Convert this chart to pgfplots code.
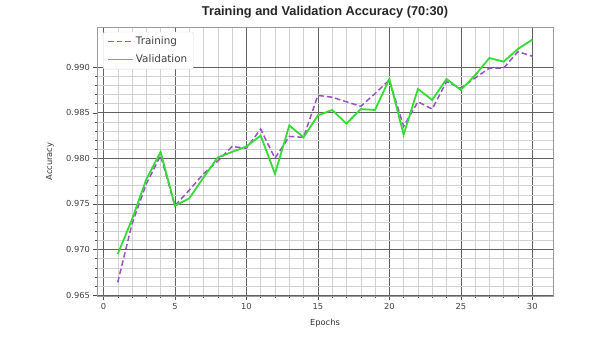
\documentclass[border=0pt]{standalone}
\usepackage{fontspec}
\setmainfont{DejaVu Sans}
\newfontfamily\titlefont{Liberation Sans}
\usepackage{pgfplots}
\pgfplotsset{compat=1.18}
\definecolor{trainc}{HTML}{9B4FC8}
\definecolor{valc}{HTML}{33DD33}
\begin{document}
\begin{tikzpicture}[x=1pt,y=1pt]
\useasboundingbox (0,0) rectangle (605,338);
\begin{axis}[at={(97pt,42pt)}, anchor=south west, scale only axis,
  width=456pt, height=269pt,
  xmin=-0.45, xmax=31.45, ymin=0.9649, ymax=0.9944,
  xtick={0,5,10,15,20,25,30},
  ytick={0.965,0.970,0.975,0.980,0.985,0.990},
  minor x tick num=4, minor y tick num=4,
  grid=both,
  major grid style={color=black!62, line width=0.6pt},
  minor grid style={color=black!18, line width=0.4pt},
  tick align=outside, tick pos=left,
  major tick length=3.5pt, minor tick length=2pt,
  every tick/.style={black!70},
  axis line style={black!40},
  /pgf/number format/assume math mode=true,
  yticklabel style={/pgf/number format/fixed, /pgf/number format/fixed zerofill, /pgf/number format/precision=3},
  ticklabel style={font=\fontsize{8.3}{10}\selectfont, text=black!75},
  title={Training and Validation Accuracy (70:30)},
  title style={font=\titlefont\bfseries\fontsize{12.8}{14}\selectfont, text=black!85, at={(0.5,1)}, anchor=south, yshift=-1pt},
  xlabel={Epochs}, ylabel={Accuracy},
  xlabel style={font=\fontsize{8.3}{10}\selectfont, text=black!80, at={(axis description cs:0.5,-0.1004)}, anchor=center},
  ylabel style={font=\fontsize{8.3}{10}\selectfont, text=black!80, at={(axis description cs:-0.103,0.5)}, anchor=center},
  legend style={at={(axis description cs:0.013,0.982)}, anchor=north west, draw=black!15, fill=white, font=\fontsize{10.4}{12}\selectfont, rounded corners=2pt, row sep=4.3pt, inner xsep=4pt, inner ysep=3pt},
  legend cell align=left,
  legend image code/.code={\draw[mark repeat=2,mark phase=2,#1] plot coordinates {(0pt,0pt) (12.5pt,0pt) (25pt,0pt)};},
]
\addplot[trainc, line width=1.5pt, dash pattern=on 5.5pt off 3pt] coordinates {
(1,0.9664) (2,0.9728) (3,0.9772) (4,0.9803) (5,0.9748) (6,0.9765) (7,0.9783) (8,0.9797) (9,0.9813) (10,0.9811)
(11,0.9832) (12,0.9800) (13,0.9824) (14,0.9823) (15,0.9869) (16,0.9867) (17,0.9862) (18,0.9857) (19,0.9871) (20,0.9886)
(21,0.9835) (22,0.9862) (23,0.9854) (24,0.9884) (25,0.9877) (26,0.9888) (27,0.9899) (28,0.9899) (29,0.9917) (30,0.9912)
};
\addlegendentry{\textcolor{black!75}{Training}}
\addplot[valc, line width=1.8pt] coordinates {
(1,0.9695) (2,0.9733) (3,0.9777) (4,0.9807) (5,0.9748) (6,0.9756) (7,0.9779) (8,0.9801) (9,0.9807) (10,0.9813)
(11,0.9825) (12,0.9783) (13,0.9836) (14,0.9823) (15,0.9847) (16,0.9853) (17,0.9838) (18,0.9854) (19,0.9853) (20,0.9887)
(21,0.9826) (22,0.9876) (23,0.9864) (24,0.9887) (25,0.9875) (26,0.9891) (27,0.9910) (28,0.9906) (29,0.9920) (30,0.9930)
};
\addlegendentry{\textcolor{black!75}{Validation}}
\end{axis}
\end{tikzpicture}
\end{document}
